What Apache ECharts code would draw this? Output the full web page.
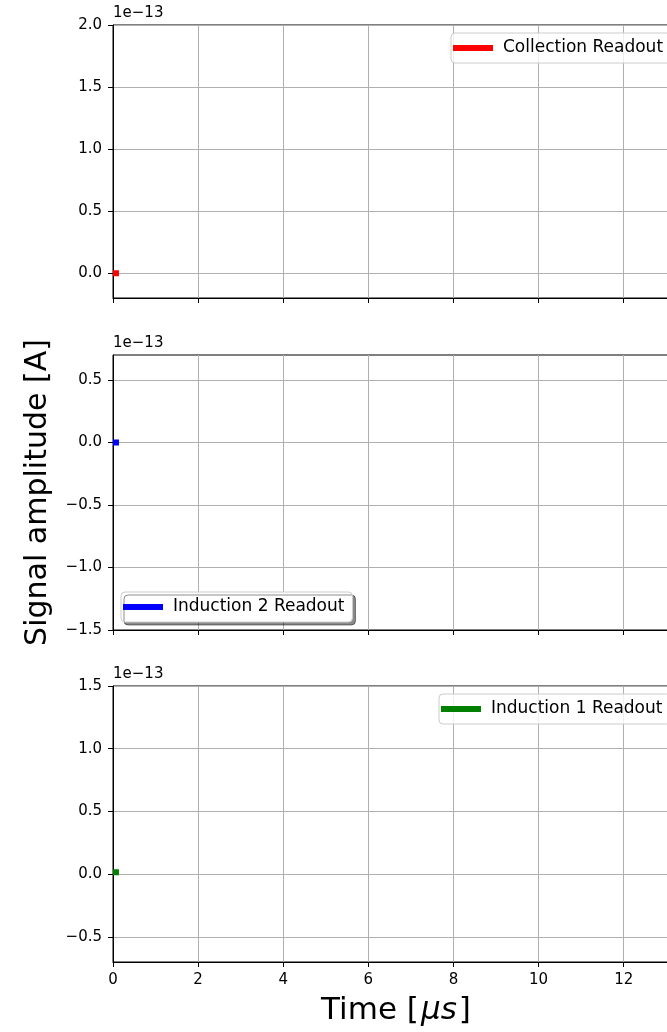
<!DOCTYPE html>
<html>
<head>
<meta charset="utf-8">
<script src="https://cdn.jsdelivr.net/npm/echarts@6/dist/echarts.min.js"></script>
<style>
  html, body { margin: 0; padding: 0; background: #fff; overflow: hidden; }
  #chart { width: 700px; height: 1032px; }
</style>
</head>
<body>
<div id="chart"></div>
<script>
// Time samples in microseconds
const timeUs = [0, 0.05, 0.10, 0.14];

// Readout currents, in units of 1e-13 A
const collection = [0, 0, 0, 0];
const induction2 = [0, 0, 0, 0];
const induction1 = [0.015, 0.015, 0.015, 0.015];

const seriesNames = ['Collection Readout', 'Induction 2 Readout', 'Induction 1 Readout'];
const seriesColors = ['#ff0000', '#0000ff', '#008000'];

// Axis ranges and tick values (units of 1e-13 A / µs)
const yRanges = [[-0.2, 2.0], [-1.5, 0.7], [-0.7, 1.5]];
const yTicks = [
  [0, 0.5, 1.0, 1.5, 2.0],
  [-1.5, -1.0, -0.5, 0, 0.5],
  [-0.5, 0, 0.5, 1.0, 1.5]
];
const xRange = [0, 13.3];
const xStep = 2;
const offsetLabel = '1e\u221213';

const FONT = 'DejaVu Sans';
const TICK_FS = 15;
const panels = [
  { top: 25, height: 273 },
  { top: 355, height: 275 },
  { top: 686, height: 276 }
];

const fmtY = v => (v < 0 ? '\u2212' : '') + Math.abs(v).toFixed(1);

const grid = panels.map(p => ({
  left: 113, width: 566, top: p.top, height: p.height,
  show: true, borderColor: '#000', borderWidth: 1, backgroundColor: 'transparent'
}));

const xAxis = panels.map((p, i) => ({
  type: 'value', gridIndex: i, min: xRange[0], max: xRange[1], interval: xStep,
  axisLine: { show: true, onZero: false, lineStyle: { color: '#000', width: 1 } },
  axisTick: { show: true, inside: false, length: 5, lineStyle: { color: '#000', width: 1 } },
  axisLabel: {
    show: i === 2, margin: 11, fontFamily: FONT, fontSize: TICK_FS, color: '#000',
    showMaxLabel: false, formatter: v => String(v)
  },
  splitLine: { show: true, lineStyle: { color: '#b0b0b0', width: 1 } },
  name: i === 2 ? '{n|Time [}{i|\u03bcs}{n|]}' : '',
  nameLocation: 'middle', nameGap: 33,
  nameTextStyle: {
    rich: {
      n: { fontFamily: FONT, fontSize: 31, color: '#000' },
      i: { fontFamily: FONT, fontSize: 31, fontStyle: 'italic', color: '#000', padding: [0, 2, 0, 2] }
    }
  }
}));

const yAxis = panels.map((p, i) => ({
  type: 'value', gridIndex: i, min: yRanges[i][0], max: yRanges[i][1],
  axisLine: { show: true, onZero: false, lineStyle: { color: '#000', width: 1 } },
  axisTick: { show: true, inside: false, length: 5, customValues: yTicks[i],
              lineStyle: { color: '#000', width: 1 } },
  axisLabel: { show: true, margin: 11, fontFamily: FONT, fontSize: TICK_FS, color: '#000',
               customValues: yTicks[i], formatter: fmtY },
  splitLine: { show: true, lineStyle: { color: '#b0b0b0', width: 1 } },
  name: offsetLabel, nameLocation: 'end', nameGap: 4,
  nameTextStyle: { align: 'left', verticalAlign: 'bottom', fontFamily: FONT, fontSize: TICK_FS,
                   color: '#000', padding: [0, 0, 0, 0] }
}));

// Shared y title, attached to the middle panel
const yTitleAxis = {
  type: 'value', gridIndex: 1, min: yRanges[1][0], max: yRanges[1][1], position: 'left',
  axisLine: { show: false }, axisTick: { show: false }, axisLabel: { show: false },
  splitLine: { show: false },
  name: 'Signal amplitude [A]', nameLocation: 'middle', nameGap: 60,
  nameTextStyle: { fontFamily: FONT, fontSize: 30, color: '#000' }
};
yAxis.push(yTitleAxis);

const dataSets = [collection, induction2, induction1];
const series = dataSets.map((vals, i) => ({
  name: seriesNames[i], type: 'line', xAxisIndex: i, yAxisIndex: i,
  data: timeUs.map((t, k) => [t, vals[k]]),
  showSymbol: false, symbol: 'none', clip: true,
  lineStyle: { color: seriesColors[i], width: 6, cap: 'butt' },
  itemStyle: { color: seriesColors[i] },
  animation: false
}));

const legendBase = {
  orient: 'horizontal', icon: 'rect', itemWidth: 40, itemHeight: 6,
  padding: [5, 8, 5, 2], borderRadius: 4, borderWidth: 1, borderColor: '#cccccc',
  backgroundColor: 'rgba(255,255,255,0.8)', selectedMode: false,
  textStyle: { fontFamily: FONT, fontSize: 17, color: '#000', padding: [0, 0, 0, 5], lineHeight: 20 }
};
const legend = [
  Object.assign({}, legendBase, { left: 451, top: 33, data: [seriesNames[0]] }),
  Object.assign({}, legendBase, {
    left: 121, top: 592, data: [seriesNames[1]], backgroundColor: '#fff',
    shadowColor: 'rgba(0,0,0,0.45)', shadowBlur: 0, shadowOffsetX: 3, shadowOffsetY: 3
  }),
  Object.assign({}, legendBase, { left: 439, top: 694, data: [seriesNames[2]] })
];

const chart = echarts.init(document.getElementById('chart'), null, { renderer: 'canvas' });
chart.setOption({
  animation: false,
  backgroundColor: '#fff',
  grid, xAxis, yAxis, legend, series
});
</script>
</body>
</html>
